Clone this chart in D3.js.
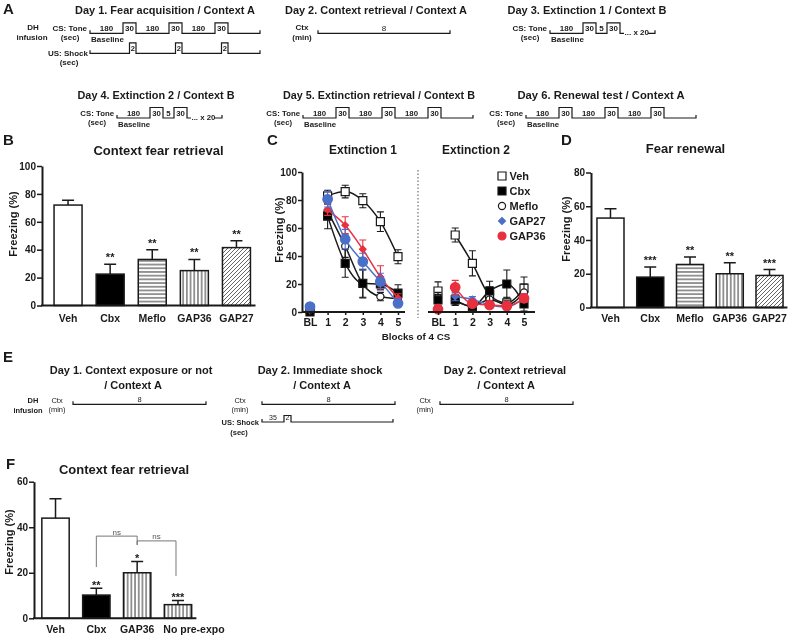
<!DOCTYPE html>
<html><head><meta charset="utf-8">
<script src="https://cdn.jsdelivr.net/npm/d3@7"></script>
<style>
body{margin:0;background:#fff;}
svg{display:block;font-family:Arial,"Liberation Sans",Helvetica,sans-serif;will-change:transform;}
</style></head><body>
<svg id="fig" width="800" height="638"></svg>
<script>
// ---------------- DATA ----------------
// Panel A protocol labels (durations)
const day1Tone = ["180","30","180","30","180","30",""];
const day1Shock = ["2","2","2"];
const day2Ctx = "8";
const day3Tone = ["180","30","5","30",""];
const day4Tone = ["180","30","5","30",""];
const day5Tone = ["180","30","180","30","180","30",""];
const day6Tone = ["180","30","180","30","180","30",""];
const repeatLabel = "... x 20";
const titlesA = ["Day 1. Fear acquisition / Context A","Day 2. Context retrieval / Context A","Day 3. Extinction 1 / Context B",
                 "Day 4. Extinction 2 / Context B","Day 5. Extinction retrieval / Context B","Day 6. Renewal test / Context A"];

// Panel B
const catsB = ["Veh","Cbx","Meflo","GAP36","GAP27"];
const meansB = [72, 22.5, 33, 25, 41.5];
const errsB = [3.5, 7, 7, 8, 5];
const starsB = ["", "**", "**", "**", "**"];
const ticksB = [0,20,40,60,80,100];

// Panel C
const blocks = ["BL","1","2","3","4","5"];
const groupsC = ["Veh","Cbx","Meflo","GAP27","GAP36"];
const ext1Veh = [2, 83, 86, 79.5, 64.5, 39.5];   const ext1VehErr = [1, 4, 4.5, 5, 7, 5];
const ext1Cbx = [0, 68.5, 34.8, 20.5, 20, 13.5]; const ext1CbxErr = [0.5, 9, 10, 10, 4, 6];
const ext1Meflo = [1, 72, 47, 20, 11, 9.5];      const ext1MefloErr = [0.5, 5, 8, 10, 3, 3];
const ext1GAP27 = [3.8, 80.5, 52, 36, 21.7, 6.2]; const ext1GAP27Err = [1, 5.5, 7, 6, 6, 2];
const ext1GAP36 = [1, 73, 62, 44.8, 25, 10];     const ext1GAP36Err = [1, 4, 6, 6.6, 8, 3];
const ext2Veh = [15, 55, 34.8, 12, 6.5, 17];     const ext2VehErr = [6.5, 5, 9, 6, 4, 8];
const ext2Cbx = [8.6, 8.6, 3.8, 15, 20, 5.7];    const ext2CbxErr = [4, 4, 2, 7, 10, 5];
const ext2Meflo = [10, 8, 4, 9, 5, 14];          const ext2MefloErr = [4, 3, 2, 4, 3, 6];
const ext2GAP27 = [3, 11, 9, 5, 3.5, 10];        const ext2GAP27Err = [1, 3, 2, 2, 2, 3];
const ext2GAP36 = [2, 17.6, 6, 5, 4.3, 9.8];     const ext2GAP36Err = [1, 5, 2, 2, 2, 3];
const ticksC = [0,20,40,60,80,100];

// Panel D
const catsD = ["Veh","Cbx","Meflo","GAP36","GAP27"];
const meansD = [53, 18, 25.5, 20, 19];
const errsD = [5.5, 6, 4.5, 6.5, 3.5];
const starsD = ["", "***", "**", "**", "***"];
const ticksD = [0,20,40,60,80];

// Panel F
const catsF = ["Veh","Cbx","GAP36","No pre-expo"];
const meansF = [44, 10.2, 20, 6];
const errsF = [8.5, 3, 5, 1.8];
const starsF = ["", "**", "*", "***"];
const ticksF = [0,20,40,60];
const nsPairs = [["Cbx","GAP36"],["GAP36","No pre-expo"]];

// ---------------- DRAW ----------------
const svg = d3.select('#fig');
const INK = '#1a1a1a';
function txt(g, x, y, s, o = {}) {
  const t = g.append('text').attr('x', x).attr('y', y).text(s)
    .attr('font-size', o.size || 11).attr('font-weight', o.weight || 'bold')
    .attr('text-anchor', o.anchor || 'start').attr('fill', o.fill || INK);
  if (o.len) t.attr('textLength', o.len).attr('lengthAdjust', 'spacingAndGlyphs');
  if (o.rot) t.attr('transform', `rotate(-90,${x},${y})`);
  return t;
}

// patterns
const defs = svg.append('defs');
function pat(id, w, h, d, color, sw) {
  const p = defs.append('pattern').attr('id', id).attr('patternUnits', 'userSpaceOnUse').attr('width', w).attr('height', h);
  p.append('rect').attr('width', w).attr('height', h).attr('fill', '#fff');
  p.append('path').attr('d', d).attr('stroke', color).attr('stroke-width', sw).attr('fill', 'none');
}
pat('hstripe', 8, 3.7, 'M0,1.85H8', '#333', 1);
pat('vstripe', 3.7, 8, 'M1.85,0V8', '#333', 1);
pat('diag', 4, 4, 'M-1,1L1,-1M0,4L4,0M3,5L5,3', '#666', 1);
const fillOf = {"Veh":"#fff","Cbx":"#000","Meflo":"url(#hstripe)","GAP36":"url(#vstripe)","GAP27":"url(#diag)","No pre-expo":"url(#vstripe)"};

// panel letters
[["A",3,14],["B",3,145],["C",267,145],["D",561,145],["E",3,362],["F",6,469]].forEach(([l,x,y]) => txt(svg, x, y, l, {size:15}));

// ---------- Panel A schematics ----------
const gA = svg.append('g');
const segW = {"180":33, "30":13, "5":11, "35":22, "2":7};
function trace(g, x0, yb, labels, tail, o = {}) {
  const H = o.h || 10.5;
  let x = x0, d = `M${x0},${yb-3}V${yb}`; const boxes = [];
  labels.forEach((lab, i) => {
    const high = i % 2 === 1;
    const w = (i === labels.length - 1 && lab === '') ? tail : segW[lab];
    d += `V${high ? yb - H : yb}H${x + w}`;
    if (lab) txt(g, x + w / 2, yb - 2.2, lab, {size: o.fs || 8, anchor: 'middle', weight: o.weight || 'bold'});
    if (high) boxes.push([x, x + w]);
    x += w;
  });
  d += `V${yb}`;
  if (o.endTick) d += `V${yb-3}`;
  g.append('path').attr('d', d).attr('fill', 'none').attr('stroke', INK).attr('stroke-width', 1.2);
  return {end: x, boxes};
}
function ctxLine(g, x0, x1, yb, lab, o = {}) {
  g.append('path').attr('d', `M${x0},${yb-3}V${yb}H${x1}V${yb-3}`).attr('fill', 'none').attr('stroke', INK).attr('stroke-width', 1.2);
  txt(g, (x0 + x1) / 2, yb - 2, lab, {size: o.fs || 8, anchor: 'middle', weight: o.weight || 'bold'});
}
function toneLabels(g, x0, yb, fs) {
  txt(g, x0 - 3, yb - 2.5, 'CS: Tone', {size: fs, anchor: 'end'});
  txt(g, x0 - 20, yb + 7, '(sec)', {size: fs, anchor: 'middle'});
  txt(g, x0 + 1, yb + 8.5, 'Baseline', {size: fs});
}
function repeatTail(g, x, yb, fs) {
  txt(g, x + 0.5, yb + 1.5, repeatLabel, {size: fs});
  g.append('path').attr('d', `M${x+24},${yb}H${x+31}V${yb-3}`).attr('fill', 'none').attr('stroke', INK).attr('stroke-width', 1.2);
}
// Row 1
txt(gA, 165, 14, titlesA[0], {size: 11, anchor: 'middle', len: 180});
txt(gA, 376, 14, titlesA[1], {size: 11, anchor: 'middle', len: 182});
txt(gA, 587, 14, titlesA[2], {size: 11, anchor: 'middle', len: 159});
txt(gA, 33, 30, 'DH', {size: 8, anchor: 'middle'});
txt(gA, 32, 40, 'infusion', {size: 8, anchor: 'middle'});
const y1 = 33.3;
toneLabels(gA, 90, y1, 8);
const t1 = trace(gA, 90, y1, day1Tone, 32, {endTick: true});
{
  const yb = 53.3, H = 10.5;
  let d = `M90,${yb-3}V${yb}`;
  t1.boxes.forEach((b, i) => {
    d += `H${b[1]-6.5}V${yb-H}H${b[1]}V${yb}`;
    txt(gA, b[1] - 3.2, yb - 2.2, day1Shock[i], {size: 7.5, anchor: 'middle'});
  });
  d += `H${t1.end}V${yb-3}`;
  gA.append('path').attr('d', d).attr('fill', 'none').attr('stroke', INK).attr('stroke-width', 1.2);
  txt(gA, 88, 55.5, 'US: Shock', {size: 8, anchor: 'end'});
  txt(gA, 69, 65, '(sec)', {size: 8, anchor: 'middle'});
}
txt(gA, 302, 30, 'Ctx', {size: 8, anchor: 'middle'});
txt(gA, 302, 40, '(min)', {size: 8, anchor: 'middle'});
ctxLine(gA, 318, 450, y1, day2Ctx, {weight: 'normal'});
toneLabels(gA, 550, y1, 8);
const t3 = trace(gA, 550, y1, day3Tone, 4);
repeatTail(gA, t3.end, y1, 8);
// Row 2
const y2 = 118;
txt(gA, 156, 99, titlesA[3], {size: 11, anchor: 'middle', len: 157});
txt(gA, 379, 99, titlesA[4], {size: 11, anchor: 'middle', len: 192});
txt(gA, 601, 99, titlesA[5], {size: 11, anchor: 'middle', len: 167});
toneLabels(gA, 117, y2, 7.8);
const t4 = trace(gA, 117, y2, day4Tone, 4, {fs: 7.8});
repeatTail(gA, t4.end, y2, 7.8);
toneLabels(gA, 303, y2, 7.8);
trace(gA, 303, y2, day5Tone, 32, {endTick: true, fs: 7.8});
toneLabels(gA, 526, y2, 7.8);
trace(gA, 526, y2, day6Tone, 32, {endTick: true, fs: 7.8});

// ---------- Bar chart helper ----------
function barChart(o) {
  const g = svg.append('g');
  const y = d3.scaleLinear().domain([0, o.ticks[o.ticks.length - 1]]).range(o.yr);
  const x = d3.scaleBand().domain(o.cats).range(o.xr).paddingInner(o.pad).paddingOuter(o.pad / 2);
  g.selectAll('rect.bar').data(o.cats).join('rect').attr('class', 'bar')
    .attr('x', d => x(d)).attr('width', x.bandwidth())
    .attr('y', (d, i) => y(o.means[i])).attr('height', (d, i) => y(0) - y(o.means[i]))
    .attr('fill', d => fillOf[d]).attr('stroke', INK).attr('stroke-width', 1.5);
  o.cats.forEach((c, i) => {
    const cx = x(c) + x.bandwidth() / 2, top = y(o.means[i] + o.errs[i]);
    g.append('path').attr('d', `M${cx},${y(o.means[i])}V${top}M${cx-6},${top}H${cx+6}`)
      .attr('stroke', INK).attr('stroke-width', 1.5).attr('fill', 'none');
    if (o.stars[i]) txt(g, cx, top + o.starOff, o.stars[i], {size: 11, anchor: 'middle'});
  });
  const ay = g.append('g').attr('transform', `translate(${o.ax},0)`)
    .call(d3.axisLeft(y).tickValues(o.ticks).tickSize(5).tickSizeOuter(0).tickPadding(o.tp || 1));
  ay.attr('font-family', null);
  ay.select('.domain').attr('stroke', INK).attr('stroke-width', 2);
  ay.selectAll('.tick line').attr('stroke', INK).attr('stroke-width', 1.5);
  ay.selectAll('.tick text').attr('font-size', 10).attr('font-weight', 'bold').attr('fill', INK);
  const ax = g.append('g').attr('transform', `translate(0,${y(0)})`)
    .call(d3.axisBottom(x).tickSize(0).tickPadding(o.xp));
  ax.select('.domain').remove();
  ax.attr('font-family', null);
  ax.selectAll('.tick text').attr('font-size', 10.5).attr('font-weight', 'bold').attr('fill', INK);
  if (o.shiftLast) {
    ax.selectAll('.tick text').filter(d => d === o.cats[o.cats.length - 1])
      .attr('text-anchor', 'start').attr('x', -x.bandwidth() / 2 - 1);
  }
  g.append('line').attr('x1', o.ax - 1).attr('x2', o.xr[1] - 2).attr('y1', y(0)).attr('y2', y(0))
    .attr('stroke', INK).attr('stroke-width', 2);
  txt(g, o.title[1], o.title[2], o.title[0], {size: 13, anchor: 'middle'});
  txt(g, o.ylab[0], o.ylab[1], 'Freezing (%)', {size: 11, anchor: 'middle', rot: true});
  return {g, x, y};
}

barChart({cats: catsB, means: meansB, errs: errsB, stars: starsB, ticks: ticksB,
  yr: [305.5, 166], xr: [47, 257.5], pad: 0.335, ax: 42, xp: 9,
  starOff: -3, title: ['Context fear retrieval', 158.5, 155], ylab: [17, 224]});

barChart({cats: catsD, means: meansD, errs: errsD, stars: starsD, ticks: ticksD,
  yr: [307.5, 172.5], xr: [590.6, 789.4], pad: 0.32, ax: 591, xp: 7.2,
  starOff: -3, title: ['Fear renewal', 685.5, 153], ylab: [570, 229]});

const F = barChart({cats: catsF, means: meansF, errs: errsF, stars: starsF, ticks: ticksF,
  yr: [618.3, 481.7], xr: [35.1, 198.4], pad: 0.33, ax: 34, xp: 7, shiftLast: true,
  starOff: 0.5, title: ['Context fear retrieval', 124, 474], ylab: [12.5, 542]});
{
  const c = k => F.x(k) + F.x.bandwidth() / 2, y = F.y, g = F.g;
  const b1 = {top: 36.1, l: 22.5, r: 32.2}, b2 = {top: 34, l: 32.2, r: 18.6};
  [[nsPairs[0], b1], [nsPairs[1], b2]].forEach(([p, b]) => {
    const xa = c(p[0]), xb = c(p[1]) - (p[1] === 'No pre-expo' ? 2 : 0);
    g.append('path').attr('d', `M${xa},${y(b.l)}V${y(b.top)}H${xb}V${y(b.r)}`)
      .attr('fill', 'none').attr('stroke', '#777').attr('stroke-width', 1);
    txt(g, (xa + xb) / 2, y(b.top) - 1.5, 'ns', {size: 8, anchor: 'middle', weight: 'normal', fill: '#555'});
  });
}

// ---------- Panel C ----------
{
  const g = svg.append('g');
  const y = d3.scaleLinear().domain([0, 100]).range([312, 172]);
  const x1 = d3.scalePoint().domain(blocks).range([310, 398]);
  const x2 = d3.scalePoint().domain(blocks).range([438, 524]);
  const BLUE = '#4a6fc8', RED = '#e8303f';
  const ext1 = {Veh: [ext1Veh, ext1VehErr], Cbx: [ext1Cbx, ext1CbxErr], Meflo: [ext1Meflo, ext1MefloErr], GAP27: [ext1GAP27, ext1GAP27Err], GAP36: [ext1GAP36, ext1GAP36Err]};
  const ext2 = {Veh: [ext2Veh, ext2VehErr], Cbx: [ext2Cbx, ext2CbxErr], Meflo: [ext2Meflo, ext2MefloErr], GAP27: [ext2GAP27, ext2GAP27Err], GAP36: [ext2GAP36, ext2GAP36Err]};
  const col = {Veh: INK, Cbx: INK, Meflo: INK, GAP27: BLUE, GAP36: RED};
  // [symbol, size, fill, rotation]
  const sty1 = {Veh: [d3.symbolSquare, 64, '#fff', 0], Cbx: [d3.symbolSquare, 64, '#000', 0], Meflo: [d3.symbolCircle, 40, '#fff', 0],
                GAP27: [d3.symbolCircle, 72, BLUE, 0], GAP36: [d3.symbolSquare, 22, RED, 45]};
  const sty2 = Object.assign({}, sty1, {GAP27: [d3.symbolSquare, 22, BLUE, 45], GAP36: [d3.symbolCircle, 72, RED, 0]});
  function mark(k, st, px, py) {
    g.append('path').attr('d', d3.symbol().type(st[0]).size(st[1])())
      .attr('transform', `translate(${px},${py}) rotate(${st[3]})`)
      .attr('fill', st[2]).attr('stroke', col[k] === INK ? INK : st[2]).attr('stroke-width', 1.2);
  }
  function series(x, data, sty, order) {
    order.forEach(k => {
      const [v, e] = data[k];
      const pts = blocks.map((b, i) => [x(b), v[i], e[i]]);
      g.append('path').attr('d', d3.line().x(p => p[0]).y(p => y(p[1])).curve(d3.curveMonotoneX)(pts.slice(1)))
        .attr('fill', 'none').attr('stroke', col[k]).attr('stroke-width', 1.5);
      pts.forEach(p => {
        g.append('path').attr('d', `M${p[0]},${y(p[1]-p[2])}V${y(p[1]+p[2])}M${p[0]-3.5},${y(p[1]+p[2])}H${p[0]+3.5}M${p[0]-3.5},${y(p[1]-p[2])}H${p[0]+3.5}`)
          .attr('stroke', col[k]).attr('stroke-width', 1.1).attr('fill', 'none');
      });
      pts.forEach(p => mark(k, sty[k], p[0], y(p[1])));
    });
  }
  series(x1, ext1, sty1, ['Veh', 'Meflo', 'Cbx', 'GAP36', 'GAP27']);
  series(x2, ext2, sty2, ['Veh', 'Meflo', 'Cbx', 'GAP27', 'GAP36']);
  const ay = g.append('g').attr('transform', 'translate(302,0)')
    .call(d3.axisLeft(y).tickValues(ticksC).tickSize(4).tickSizeOuter(0).tickPadding(1));
  ay.attr('font-family', null);
  ay.select('.domain').attr('stroke', INK).attr('stroke-width', 2);
  ay.selectAll('.tick line').attr('stroke', INK).attr('stroke-width', 1.5);
  ay.selectAll('.tick text').attr('font-size', 10).attr('font-weight', 'bold').attr('fill', INK);
  [[x1, 302, 405], [x2, 428, 535]].forEach(([x, a, b]) => {
    const ax = g.append('g').attr('transform', 'translate(0,312)').call(d3.axisBottom(x).tickSize(3).tickPadding(3.5));
    ax.attr('font-family', null);
    ax.select('.domain').remove();
    ax.selectAll('.tick line').attr('stroke', INK).attr('stroke-width', 1.5);
    ax.selectAll('.tick text').attr('font-size', 10.5).attr('font-weight', 'bold').attr('fill', INK);
    g.append('line').attr('x1', a).attr('x2', b).attr('y1', 312).attr('y2', 312).attr('stroke', INK).attr('stroke-width', 2);
  });
  g.append('line').attr('x1', 418).attr('x2', 418).attr('y1', 170).attr('y2', 318)
    .attr('stroke', '#555').attr('stroke-width', 1).attr('stroke-dasharray', '1.5,2');
  txt(g, 363, 154, 'Extinction 1', {size: 12, anchor: 'middle'});
  txt(g, 476, 154, 'Extinction 2', {size: 12, anchor: 'middle'});
  txt(g, 416, 340, 'Blocks of 4 CS', {size: 9.8, anchor: 'middle'});
  txt(g, 283, 230, 'Freezing (%)', {size: 11, anchor: 'middle', rot: true});
  const legSty = {Veh: sty1.Veh, Cbx: sty1.Cbx, Meflo: sty1.Meflo, GAP27: [d3.symbolSquare, 24, BLUE, 45], GAP36: [d3.symbolCircle, 50, RED, 0]};
  groupsC.forEach((k, i) => {
    const yy = 176 + i * 15;
    mark(k, legSty[k], 502, yy);
    txt(g, 509.5, yy + 4, k, {size: 11});
  });
}

// ---------- Panel E schematics ----------
{
  const g = svg.append('g');
  txt(g, 131, 374, 'Day 1. Context exposure or not', {size: 11, anchor: 'middle'});
  txt(g, 133, 388.5, '/ Context A', {size: 11, anchor: 'middle'});
  txt(g, 320, 374, 'Day 2. Immediate shock', {size: 11, anchor: 'middle'});
  txt(g, 322, 388.5, '/ Context A', {size: 11, anchor: 'middle'});
  txt(g, 505, 374, 'Day 2. Context retrieval', {size: 11, anchor: 'middle'});
  txt(g, 506, 388.5, '/ Context A', {size: 11, anchor: 'middle'});
  txt(g, 33, 403, 'DH', {size: 7.5, anchor: 'middle'});
  txt(g, 28, 413, 'infusion', {size: 7.5, anchor: 'middle'});
  const yb = 404.3;
  [[57, 73, 206], [240, 262, 395], [425, 440, 573]].forEach(([lx, a, b]) => {
    txt(g, lx, 402.5, 'Ctx', {size: 7.5, anchor: 'middle', weight: 'normal'});
    txt(g, lx, 412, '(min)', {size: 7.5, anchor: 'middle', weight: 'normal'});
    ctxLine(g, a, b, yb, day2Ctx, {fs: 7.5, weight: 'normal'});
  });
  txt(g, 259, 424.5, 'US: Shock', {size: 7.5, anchor: 'end'});
  txt(g, 239, 434.5, '(sec)', {size: 7.5, anchor: 'middle'});
  trace(g, 262, 422, ["35", "2", ""], 102, {h: 6.5, fs: 7, weight: 'normal', endTick: true});
}
</script>
</body></html>
